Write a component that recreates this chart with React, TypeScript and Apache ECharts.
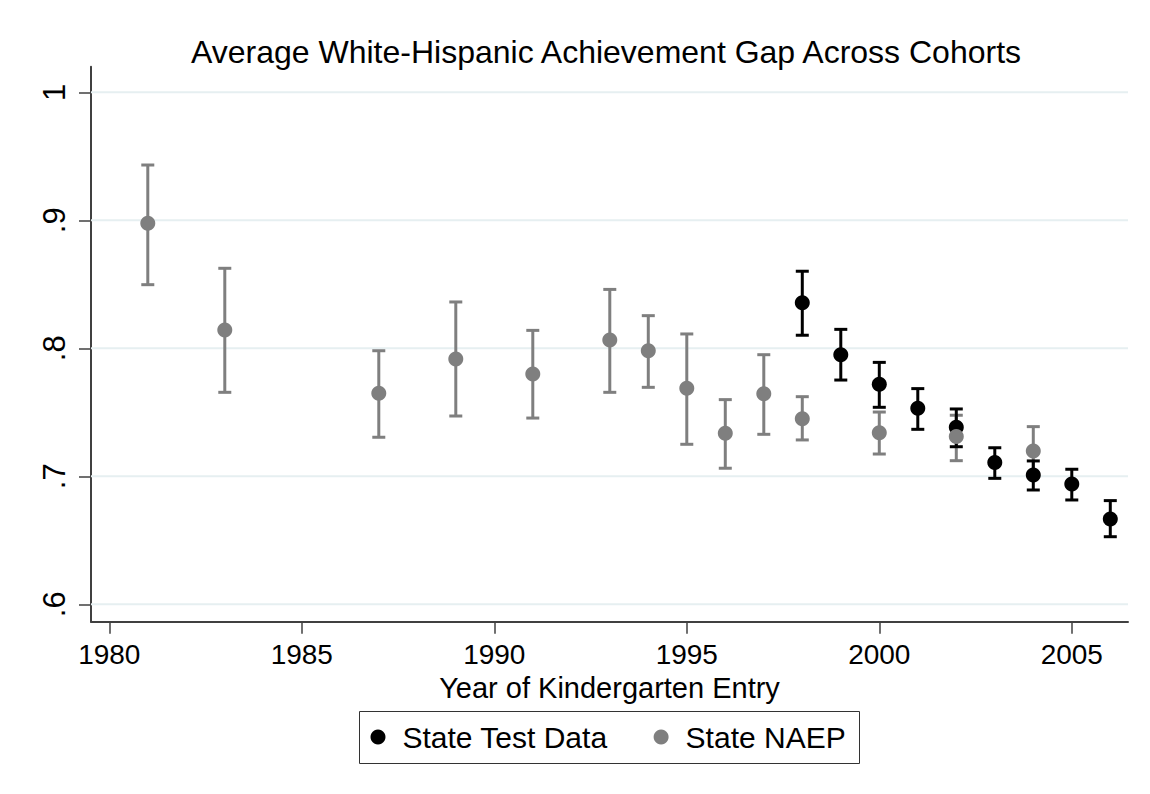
import React, { useEffect, useRef } from "react";
import * as echarts from "echarts";

// ---- data ----
const naepYears = [1981, 1983, 1987, 1989, 1991, 1993, 1994, 1995, 1996, 1997, 1998, 2000, 2002, 2004];
const naepMean = [0.8976, 0.8143, 0.7648, 0.7916, 0.7799, 0.8065, 0.798, 0.7687, 0.7336, 0.7645, 0.745, 0.734, 0.731, 0.7198];
const naepLow = [0.8497, 0.7656, 0.7305, 0.7471, 0.7455, 0.7656, 0.7695, 0.725, 0.7063, 0.7328, 0.7284, 0.7174, 0.7122, 0.7008];
const naepHigh = [0.9432, 0.8625, 0.7981, 0.8362, 0.814, 0.846, 0.8255, 0.8112, 0.7599, 0.795, 0.7622, 0.7502, 0.7477, 0.7388];

const stateYears = [1998, 1999, 2000, 2001, 2002, 2003, 2004, 2005, 2006];
const stateMean = [0.8356, 0.795, 0.7719, 0.7531, 0.7383, 0.7107, 0.701, 0.694, 0.6666];
const stateLow = [0.8102, 0.7752, 0.7539, 0.7367, 0.7231, 0.6984, 0.6893, 0.6815, 0.6528];
const stateHigh = [0.8602, 0.8148, 0.789, 0.7685, 0.7526, 0.7223, 0.712, 0.7055, 0.681];

const xTicks = [1980, 1985, 1990, 1995, 2000, 2005];
const yTicks = [0.6, 0.7, 0.8, 0.9, 1];

const TITLE = "Average White-Hispanic Achievement Gap Across Cohorts";
const X_NAME = "Year of Kindergarten Entry";
const STATE_NAME = "State Test Data";
const NAEP_NAME = "State NAEP";

const X_MIN = 1979.525;
const X_MAX = 2006.46;
const Y_MIN = 0.5864;
const Y_MAX = 1.02;

const FONT = "'Liberation Sans', Arial, Helvetica, sans-serif";
const GRAY = "#7f7f7f";
const BLACK = "#000000";
const AXIS = "#404040";

function errorBarRender(color: string) {
  return (params: any, api: any) => {
    const x = api.value(0);
    const lo = api.value(1);
    const hi = api.value(2);
    const pLo = api.coord([x, lo]);
    const pHi = api.coord([x, hi]);
    const hw = 6.5;
    const style = { stroke: color, lineWidth: 3, fill: null };
    return {
      type: "group",
      children: [
        { type: "line", shape: { x1: pLo[0], y1: pLo[1], x2: pHi[0], y2: pHi[1] }, style },
        { type: "line", shape: { x1: pLo[0] - hw, y1: pLo[1], x2: pLo[0] + hw, y2: pLo[1] }, style },
        { type: "line", shape: { x1: pHi[0] - hw, y1: pHi[1], x2: pHi[0] + hw, y2: pHi[1] }, style },
      ],
    };
  };
}

export default function App() {
  const ref = useRef<HTMLDivElement>(null);

  useEffect(() => {
    if (!ref.current) return;
    const chart = echarts.init(ref.current, null, { renderer: "svg" });

    const naepBars = naepYears.map((y, i) => [y, naepLow[i], naepHigh[i]]);
    const stateBars = stateYears.map((y, i) => [y, stateLow[i], stateHigh[i]]);
    const naepPts = naepYears.map((y, i) => [y, naepMean[i]]);
    const statePts = stateYears.map((y, i) => [y, stateMean[i]]);
    const gridData = yTicks.map((v) => [X_MIN, v]);

    chart.setOption({
      animation: false,
      backgroundColor: "#ffffff",
      title: {
        text: TITLE,
        left: 606,
        textAlign: "center",
        top: 36,
        padding: 0,
        textStyle: { fontFamily: FONT, fontSize: 32, fontWeight: "normal", color: "#000" },
      },
      legend: {
        data: [
          { name: STATE_NAME, icon: "circle" },
          { name: NAEP_NAME, icon: "circle" },
        ],
        left: 370.5,
        top: 722,
        padding: 0,
        itemWidth: 15,
        itemHeight: 15,
        itemGap: 46,
        selectedMode: false,
        textStyle: { fontFamily: FONT, fontSize: 30, color: "#000", padding: [0, 0, 0, 12] },
      },
      graphic: [
        {
          type: "rect",
          shape: { x: 359.5, y: 711.5, width: 500, height: 52 },
          style: { fill: null, stroke: "#333333", lineWidth: 1 },
          silent: true,
        },
      ],
      grid: { left: 91, right: 22, top: 66.7, bottom: 172.3, containLabel: false },
      xAxis: {
        type: "value",
        min: X_MIN,
        max: X_MAX,
        name: X_NAME,
        nameLocation: "middle",
        nameGap: 37,
        nameTextStyle: { fontFamily: FONT, fontSize: 29, color: "#000" },
        axisLine: { show: true, lineStyle: { color: AXIS, width: 2 } },
        axisTick: { show: true, length: 12, lineStyle: { color: AXIS, width: 1.5 }, customValues: xTicks },
        axisLabel: {
          customValues: xTicks,
          margin: 19,
          fontFamily: FONT,
          fontSize: 28,
          color: "#000",
          formatter: (v: number) => String(v),
        },
        splitLine: { show: false },
      },
      yAxis: {
        type: "value",
        min: Y_MIN,
        max: Y_MAX,
        axisLine: { show: true, lineStyle: { color: AXIS, width: 2 } },
        axisTick: { show: true, length: 12, lineStyle: { color: AXIS, width: 1.5 }, customValues: yTicks },
        axisLabel: {
          customValues: yTicks,
          rotate: 90,
          margin: 21,
          fontFamily: FONT,
          fontSize: 31,
          color: "#000",
          formatter: (v: number) => (Math.abs(v - 1) < 1e-9 ? "1" : "." + Math.round(v * 10)),
        },
        splitLine: { show: false },
      },
      series: [
        {
          type: "custom",
          name: "grid",
          silent: true,
          data: gridData,
          encode: { x: 0, y: 1 },
          renderItem: (params: any, api: any) => {
            const p = api.coord([api.value(0), api.value(1)]);
            const cs = params.coordSys;
            return {
              type: "line",
              shape: { x1: cs.x, y1: p[1], x2: cs.x + cs.width, y2: p[1] },
              style: { stroke: "#e6eff1", lineWidth: 2 },
            };
          },
        },
        {
          type: "custom",
          name: "NAEP CI",
          silent: true,
          data: naepBars,
          encode: { x: 0, y: [1, 2] },
          renderItem: errorBarRender(GRAY),
        },
        {
          type: "custom",
          name: "State CI",
          silent: true,
          data: stateBars,
          encode: { x: 0, y: [1, 2] },
          renderItem: errorBarRender(BLACK),
        },
        {
          type: "scatter",
          name: STATE_NAME,
          data: statePts,
          symbol: "circle",
          symbolSize: 15,
          itemStyle: { color: BLACK, opacity: 1 },
        },
        {
          type: "scatter",
          name: NAEP_NAME,
          data: naepPts,
          symbol: "circle",
          symbolSize: 15,
          itemStyle: { color: GRAY, opacity: 1 },
        },
      ],
    });

    return () => chart.dispose();
  }, []);

  return (
    <div
      ref={ref}
      style={{ position: "fixed", left: 0, top: 0, width: 1150, height: 794, background: "#fff" }}
    />
  );
}
